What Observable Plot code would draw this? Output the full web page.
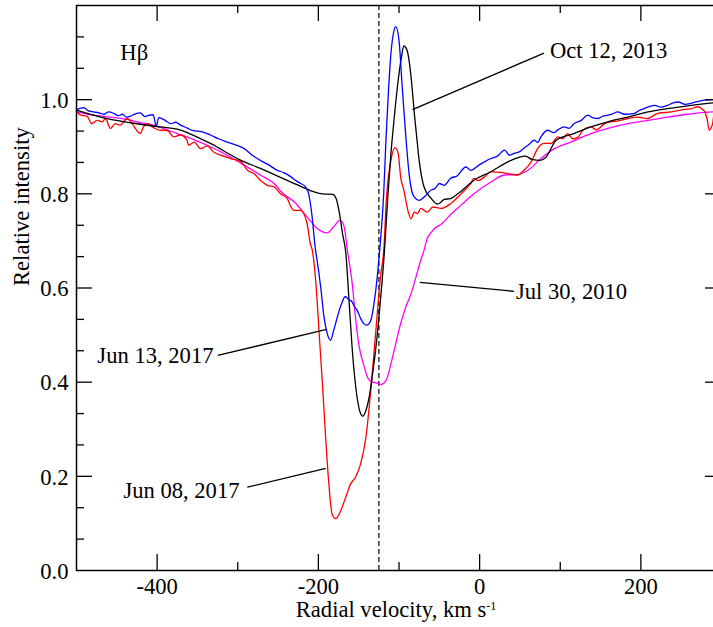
<!DOCTYPE html>
<html>
<head>
<meta charset="utf-8">
<script src="https://cdn.jsdelivr.net/npm/d3@7"></script>
<script src="https://cdn.jsdelivr.net/npm/@observablehq/plot@0.6"></script>
<style>
  html, body { margin: 0; padding: 0; background: white; overflow: hidden; }
  #wrap { width: 713px; height: 627px; overflow: hidden; }
  #wrap svg { max-width: none !important; }
</style>
</head>
<body>
<div id="wrap"></div>
<script>
// ---- Data: [radial velocity (km/s), relative intensity] ----
const oct2013 = [[-500,0.978],[-470,0.963],[-433,0.951],[-396,0.942],[-372,0.936],[-360,0.928],[-334,0.907],[-296,0.871],[-272,0.854],[-247,0.835],[-222,0.816],[-205,0.804],[-195,0.800],[-182,0.799],[-178,0.790],[-174,0.760],[-170,0.715],[-166,0.675],[-162,0.574],[-158,0.47],[-152,0.368],[-148,0.335],[-145,0.328],[-141,0.340],[-137,0.368],[-133,0.415],[-129,0.468],[-123,0.574],[-118,0.68],[-114,0.79],[-110,0.886],[-106,0.96],[-102,1.027],[-97,1.09],[-94,1.114],[-90,1.105],[-87,1.077],[-84,1.03],[-81,0.971],[-78,0.92],[-75,0.871],[-69,0.815],[-60,0.79],[-52,0.778],[-48,0.782],[-44,0.788],[-36,0.790],[-27,0.80],[-7,0.829],[14,0.847],[35,0.868],[57,0.88],[65,0.873],[75,0.871],[82,0.877],[95,0.914],[117,0.928],[138,0.942],[159,0.953],[184,0.963],[209,0.974],[233,0.981],[258,0.987],[283,0.992],[300,0.995]];

const jun13_2017 = [[-500,0.979],[-491,0.983],[-485,0.976],[-479,0.974],[-472,0.972],[-466,0.969],[-460,0.974],[-454,0.971],[-448,0.966],[-443,0.969],[-438,0.963],[-433,0.965],[-427,0.970],[-421,0.972],[-415,0.964],[-410,0.967],[-405,0.968],[-401,0.944],[-398,0.962],[-392,0.958],[-383,0.949],[-377,0.952],[-371,0.946],[-363,0.940],[-355,0.934],[-345,0.932],[-334,0.925],[-324,0.917],[-313,0.910],[-303,0.904],[-292,0.896],[-282,0.882],[-272,0.871],[-262,0.862],[-251,0.850],[-243,0.845],[-234,0.836],[-227,0.827],[-222,0.822],[-216,0.815],[-212,0.800],[-208,0.755],[-204,0.687],[-200,0.64],[-197,0.60],[-193,0.538],[-189,0.503],[-185,0.489],[-181,0.510],[-177,0.535],[-174,0.553],[-170,0.572],[-167,0.582],[-162,0.575],[-158,0.570],[-155,0.560],[-152,0.553],[-147.5,0.535],[-144,0.525],[-140,0.521],[-135,0.531],[-131,0.567],[-127,0.623],[-124,0.68],[-122.6,0.708],[-119,0.80],[-116,0.921],[-113,1.02],[-110,1.098],[-107,1.14],[-104,1.155],[-100,1.126],[-96,1.027],[-91.5,0.921],[-87.5,0.843],[-84,0.805],[-81,0.793],[-75,0.786],[-69,0.793],[-60,0.808],[-55,0.812],[-50,0.822],[-44,0.818],[-36,0.833],[-28,0.838],[-17,0.857],[-11,0.85],[0,0.862],[6,0.868],[14,0.875],[22,0.880],[31,0.893],[37,0.882],[43,0.886],[49,0.889],[55,0.897],[60,0.903],[68,0.914],[72,0.909],[76,0.921],[84,0.935],[92,0.930],[98,0.937],[105,0.942],[111,0.939],[117,0.949],[126,0.956],[134,0.967],[140,0.962],[147,0.960],[153,0.965],[159,0.967],[165,0.970],[171,0.974],[180,0.969],[192,0.971],[198,0.977],[204,0.981],[210,0.985],[217,0.988],[225,0.984],[233,0.988],[240,0.993],[246,0.995],[255,0.990],[262,0.992],[270,0.996],[279,0.999],[290,1.0],[300,1.0]];

const jun08_2017 = [[-500,0.976],[-495,0.967],[-487,0.965],[-481,0.949],[-474.5,0.956],[-468,0.953],[-464,0.960],[-458,0.939],[-452,0.949],[-446,0.946],[-437,0.960],[-431,0.949],[-421,0.928],[-417,0.942],[-412,0.949],[-404,0.940],[-396,0.935],[-388,0.935],[-379,0.921],[-371,0.925],[-363,0.914],[-361,0.903],[-354,0.910],[-346,0.896],[-338,0.902],[-330,0.889],[-321,0.882],[-309,0.875],[-296,0.868],[-288,0.85],[-280,0.843],[-272,0.829],[-263,0.818],[-255,0.815],[-247,0.80],[-238.5,0.79],[-234,0.772],[-230,0.765],[-222,0.765],[-214,0.737],[-210,0.694],[-207.5,0.68],[-203,0.609],[-199,0.503],[-195,0.397],[-191,0.283],[-187,0.184],[-183,0.12],[-178.5,0.11],[-172,0.128],[-166,0.156],[-160,0.184],[-154,0.198],[-147.5,0.227],[-141,0.283],[-135,0.383],[-129,0.503],[-123,0.623],[-118.5,0.69],[-116,0.779],[-110,0.871],[-105,0.898],[-101,0.886],[-98,0.836],[-94,0.808],[-89,0.765],[-85,0.747],[-81,0.761],[-77,0.758],[-73,0.769],[-65,0.761],[-58,0.772],[-48,0.769],[-36,0.779],[-23,0.80],[-11,0.822],[-7,0.833],[-2,0.828],[6,0.836],[14,0.847],[22,0.846],[35,0.843],[47,0.840],[55,0.850],[64,0.868],[72,0.896],[80,0.907],[89,0.907],[97,0.921],[103,0.917],[109,0.928],[115.5,0.917],[122,0.920],[128,0.935],[138,0.942],[145,0.936],[155,0.949],[163,0.953],[172,0.955],[184,0.960],[196,0.963],[208,0.960],[221,0.971],[238,0.974],[250,0.978],[262.5,0.981],[271,0.985],[275,0.981],[279,0.975],[282,0.96],[285,0.935],[287,0.94],[289,0.949],[291,0.971],[300,0.975]];

const jul2010 = [[-500,0.974],[-479,0.967],[-458,0.963],[-437,0.958],[-421,0.951],[-412,0.949],[-396,0.941],[-375,0.928],[-354.5,0.915],[-334,0.90],[-313,0.882],[-292,0.861],[-272,0.840],[-251,0.815],[-247,0.806],[-230,0.783],[-214,0.751],[-201,0.726],[-189,0.717],[-181,0.73],[-173,0.744],[-168,0.73],[-164,0.68],[-158,0.609],[-154,0.538],[-150,0.482],[-143,0.432],[-138,0.407],[-133,0.400],[-127,0.398],[-123,0.395],[-116,0.404],[-110,0.439],[-104,0.482],[-98,0.524],[-91.5,0.56],[-85,0.588],[-79,0.623],[-73,0.659],[-69,0.68],[-65,0.705],[-60,0.718],[-55,0.728],[-48,0.735],[-36,0.756],[-23,0.776],[-7,0.80],[14,0.825],[31,0.840],[47,0.841],[60,0.850],[76,0.875],[93,0.896],[113,0.910],[138,0.928],[159,0.939],[184,0.949],[209,0.956],[233.5,0.963],[258,0.969],[279,0.973],[300,0.975]];

// ---- Axes ----
const xDomain = [-500, 300];
const yDomain = [0, 1.2];
const xMajor = [-400, -200, 0, 200];
const xMinor = [-300, -100, 100];
const yLabels = [0, 0.2, 0.4, 0.6, 0.8, 1.0];
const yMajor = [0.2, 0.4, 0.6, 0.8, 1.0];
const yMinor = [0.0667, 0.1333, 0.2667, 0.3333, 0.4667, 0.5333, 0.6667, 0.7333, 0.8667, 0.9333, 1.0667, 1.1333];
const xTitle = "Radial velocity, km s";
const xTitleSup = "-1";
const yTitle = "Relative intensity";
const restVelocity = [-125];

// ---- Annotations ----
const lineTitle = ["Hβ"];
const labelText = ["Oct 12, 2013", "Jul 30, 2010", "Jun 13, 2017", "Jun 08, 2017"];
const labelV = [87.3, 45.1, -330.1, -297.8];
const labelI = [1.088, 0.576, 0.440, 0.155];
const labelAnchor = ["start", "start", "end", "end"];
const leaderV1 = [79.9, 42.6, -324.8, -288.2];
const leaderI1 = [1.099, 0.593, 0.457, 0.177];
const leaderV2 = [-83.2, -74.2, -189.7, -190.9];
const leaderI2 = [0.979, 0.612, 0.512, 0.217];

const labels = labelText.map((t, k) => ({t, v: labelV[k], i: labelI[k], a: labelAnchor[k]}));
const labelsStart = labels.filter(d => d.a === "start");
const labelsEnd = labels.filter(d => d.a === "end");
const leaders = leaderV1.map((v, k) => ({x1: v, y1: leaderI1[k], x2: leaderV2[k], y2: leaderI2[k]}));

const W = 722, H = 627, mL = 76, mR = 1, mT = 5, mB = 57;
const fw = W - mL - mR, fh = H - mT - mB;
const font = "Liberation Serif, Times New Roman, serif";
const fs = 22.6;
const T = {fontSize: fs, fontFamily: font, fill: "black"};

const fmt = d => d === 0 ? "0.0" : d.toFixed(1);

const plot = Plot.plot({
  width: W, height: H,
  marginLeft: mL, marginRight: mR, marginTop: mT, marginBottom: mB,
  x: {domain: xDomain, axis: null},
  y: {domain: yDomain, axis: null},
  style: {fontFamily: font, fontSize: fs + "px", background: "white", color: "black", maxWidth: "none"},
  marks: [
    Plot.ruleX(restVelocity, {x: d => d, stroke: "#444", strokeWidth: 1.6, strokeDasharray: "5,3"}),
    Plot.line(jul2010, {x: d => d[0], y: d => d[1], stroke: "#ff00ff", strokeWidth: 1.3, curve: "monotone-x"}),
    Plot.line(jun08_2017, {x: d => d[0], y: d => d[1], stroke: "#ff0000", strokeWidth: 1.3, curve: "monotone-x"}),
    Plot.line(oct2013, {x: d => d[0], y: d => d[1], stroke: "black", strokeWidth: 1.3, curve: "monotone-x"}),
    Plot.line(jun13_2017, {x: d => d[0], y: d => d[1], stroke: "#0000ff", strokeWidth: 1.3, curve: "monotone-x"}),
    Plot.frame({stroke: "black", strokeWidth: 1.5}),
    Plot.ruleX(xMajor, {x: d => d, insetTop: fh - 16, stroke: "black", strokeWidth: 1.3}),
    Plot.ruleX(xMajor, {x: d => d, insetBottom: fh - 16, stroke: "black", strokeWidth: 1.3}),
    Plot.ruleX(xMinor, {x: d => d, insetTop: fh - 8, stroke: "black", strokeWidth: 1.3}),
    Plot.ruleX(xMinor, {x: d => d, insetBottom: fh - 8, stroke: "black", strokeWidth: 1.3}),
    Plot.ruleY(yMajor, {y: d => d, insetRight: fw - 16, stroke: "black", strokeWidth: 1.3}),
    Plot.ruleY(yMajor, {y: d => d, insetLeft: fw - 16, stroke: "black", strokeWidth: 1.3}),
    Plot.ruleY(yMinor, {y: d => d, insetRight: fw - 8, stroke: "black", strokeWidth: 1.3}),
    Plot.ruleY(yMinor, {y: d => d, insetLeft: fw - 8, stroke: "black", strokeWidth: 1.3}),
    Plot.text(xMajor, {x: d => d, text: d => String(d), frameAnchor: "bottom", lineAnchor: "bottom", dy: 23, ...T}),
    Plot.text(yLabels, {y: d => d, text: fmt, frameAnchor: "left", textAnchor: "end", lineAnchor: "middle", dx: -8, dy: 1, ...T}),
    Plot.text([xTitle], {text: d => d, frameAnchor: "bottom", lineAnchor: "bottom", dy: 46, dx: -3, ...T}),
    Plot.text([yTitle], {text: d => d, frameAnchor: "left", lineAnchor: "bottom", rotate: -90, dx: -48, dy: -2, ...T}),
    Plot.text(lineTitle, {x: -445.6, y: 1.084, text: d => d, textAnchor: "start", lineAnchor: "bottom", ...T}),
    Plot.link(leaders, {x1: "x1", y1: "y1", x2: "x2", y2: "y2", stroke: "black", strokeWidth: 1.3}),
    Plot.text(labelsStart, {x: "v", y: "i", text: "t", textAnchor: "start", lineAnchor: "bottom", ...T}),
    Plot.text(labelsEnd, {x: "v", y: "i", text: "t", textAnchor: "end", lineAnchor: "bottom", ...T})
  ]
});

document.getElementById("wrap").appendChild(plot);
plot.style.maxWidth = "none";
// superscript on the x title
d3.select(plot).selectAll("text")
  .filter(function () { return this.textContent === xTitle; })
  .append("tspan").attr("dy", "-0.55em").attr("font-size", "12px").text(xTitleSup);
</script>
</body>
</html>
